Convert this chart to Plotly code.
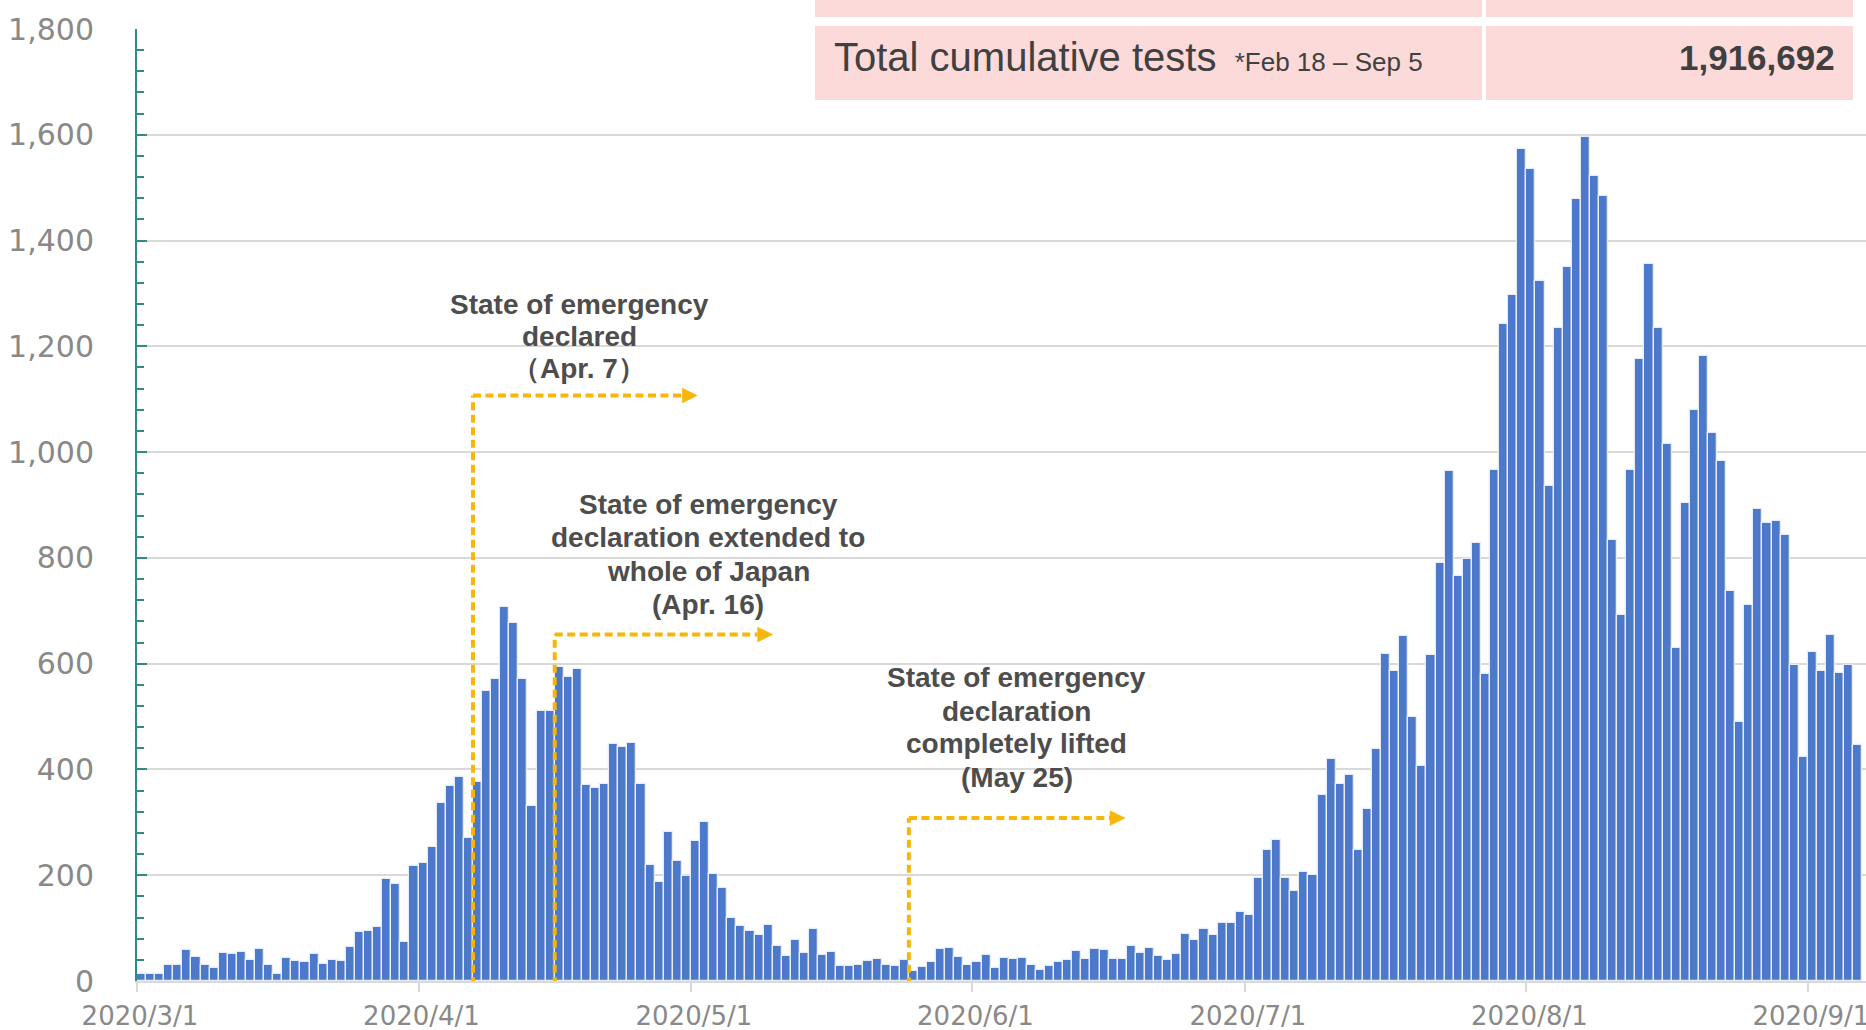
import plotly.graph_objects as go
import pandas as pd

# ---------------- data ----------------
start_date = "2020-03-01"
daily_tests = [
    14, 13, 14, 31, 30, 59, 46, 31, 25, 53,
    51, 54, 39, 60, 31, 14, 43, 38, 35, 52,
    33, 40, 37, 64, 93, 95, 103, 193, 184, 73,
    217, 224, 253, 336, 369, 386, 270, 376, 549, 571,
    708, 676, 571, 331, 510, 510, 594, 574, 589, 370,
    365, 372, 448, 443, 450, 372, 219, 188, 282, 226,
    198, 265, 300, 203, 175, 119, 104, 95, 87, 106,
    66, 48, 78, 53, 98, 50, 55, 28, 28, 30,
    37, 42, 30, 28, 39, 19, 26, 36, 60, 63,
    45, 31, 35, 50, 25, 44, 41, 44, 31, 20,
    28, 35, 39, 56, 42, 61, 59, 41, 42, 67,
    53, 63, 48, 39, 52, 88, 78, 98, 87, 110,
    109, 131, 125, 194, 248, 267, 194, 170, 206, 201,
    351, 419, 372, 390, 247, 326, 439, 619, 587, 653,
    500, 406, 617, 791, 965, 765, 797, 829, 580, 967,
    1242, 1297, 1573, 1535, 1324, 936, 1234, 1350, 1479, 1595,
    1523, 1485, 834, 692, 967, 1176, 1355, 1234, 1016, 629,
    904, 1079, 1181, 1036, 984, 738, 490, 711, 892, 866,
    869, 843, 597, 424, 623, 587, 654, 582, 597, 446,
]
tick_dates = ["2020-03-01", "2020-04-01", "2020-05-01", "2020-06-01",
              "2020-07-01", "2020-08-01", "2020-09-01"]
tick_labels = ["2020/3/1", "2020/4/1", "2020/5/1", "2020/6/1",
               "2020/7/1", "2020/8/1", "2020/9/1"]
y_ticks = [0, 200, 400, 600, 800, 1000, 1200, 1400, 1600, 1800]

event_dates = ["2020-04-07", "2020-04-16", "2020-05-25"]
event_lines = [
    ["State of emergency", "declared", "（Apr. 7）"],
    ["State of emergency", "declaration extended to", "whole of Japan", "(Apr. 16)"],
    ["State of emergency", "declaration", "completely lifted", "(May 25)"],
]
table_label = "Total cumulative tests"
table_note = "*Feb 18 – Sep 5"
table_value = "1,916,692"

# ---------------- derived positions ----------------
dates = pd.date_range(start_date, periods=len(daily_tests))
d0 = dates[0]
x_idx = list(range(len(daily_tests)))
tickvals = [(pd.Timestamp(d) - d0).days - 0.5 for d in tick_dates]
event_idx = [(pd.Timestamp(d) - d0).days for d in event_dates]

# style constants for annotations (arrow heights / text placement, in y units)
arrow_y = [1107, 655, 308]
arrow_len = [24.7, 24.0, 23.8]
text_cx = [48.2, 62.4, 96.4]
text_y = [[1280, 1219, 1158], [901, 838, 774, 712], [573, 510, 450, 384]]

ORANGE = "#F8B60A"
TEAL = "#2E8A84"
GRID = "#D9D9D9"
TXT = "#898989"
ANN = "#4D4D4D"

fig = go.Figure()
fig.add_trace(go.Bar(
    x=x_idx, y=daily_tests, width=1.0,
    marker=dict(color="#4C79C9", line=dict(color="#E6ECF8", width=1.3)),
    hoverinfo="y",
))

shapes = []
annotations = []
for k, ei in enumerate(event_idx):
    x0 = ei - 0.5
    y_h = arrow_y[k]
    tip = x0 + arrow_len[k]
    head = 1.65
    shapes.append(dict(type="line", xref="x", yref="y", x0=x0, x1=x0, y0=-8, y1=y_h,
                       line=dict(color=ORANGE, width=4, dash="8px,4.5px"), layer="above"))
    shapes.append(dict(type="line", xref="x", yref="y", x0=x0, x1=tip - head, y0=y_h, y1=y_h,
                       line=dict(color=ORANGE, width=4, dash="8px,4.5px"), layer="above"))
    shapes.append(dict(type="path", xref="x", yref="y",
                       path=f"M {tip-head},{y_h-14} L {tip},{y_h} L {tip-head},{y_h+14} Z",
                       fillcolor=ORANGE, line=dict(color=ORANGE, width=0.5), layer="above"))
    for line_text, yy in zip(event_lines[k], text_y[k]):
        annotations.append(dict(x=text_cx[k], y=yy, xref="x", yref="y", text=f"<b>{line_text}</b>",
                                showarrow=False, xanchor="center", yanchor="middle",
                                font=dict(family="Liberation Sans, Arial", size=28, color=ANN)))

# table (top right); paper coords relative to plot area (page px 137..1866, 29..981)
PW = 1729.0
PH = 952.0
def px(xp):
    return (xp - 137) / PW
def py(yp):
    return (981 - yp) / PH

PINK = "#FDDADA"
for (xa, xb) in [(815, 1482), (1486, 1853)]:
    shapes.append(dict(type="rect", xref="paper", yref="paper", x0=px(xa), x1=px(xb),
                       y0=py(17), y1=py(-10), fillcolor=PINK, line=dict(width=0), layer="above"))
    shapes.append(dict(type="rect", xref="paper", yref="paper", x0=px(xa), x1=px(xb),
                       y0=py(100), y1=py(26), fillcolor=PINK, line=dict(width=0), layer="above"))

annotations.append(dict(x=px(832), y=py(57), xref="paper", yref="paper",
                        text=f"{table_label} <span style='font-size:26px'>&nbsp;{table_note}</span>",
                        showarrow=False, xanchor="left", yanchor="middle",
                        font=dict(family="Liberation Sans, Arial", size=40, color="#404040")))
annotations.append(dict(x=px(1837), y=py(57), xref="paper", yref="paper",
                        text=f"<b>{table_value}</b>",
                        showarrow=False, xanchor="right", yanchor="middle",
                        font=dict(family="Liberation Sans, Arial", size=35, color="#404040")))

fig.update_layout(
    width=1866, height=1030, autosize=False,
    margin=dict(l=137, r=0, t=29, b=49, pad=0),
    paper_bgcolor="white", plot_bgcolor="white",
    bargap=0, showlegend=False,
    shapes=shapes, annotations=annotations,
    font=dict(family="DejaVu Sans", color=TXT),
)
fig.update_xaxes(
    range=[-0.5, 189.9], tickmode="array", tickvals=tickvals, ticktext=tick_labels,
    ticks="outside", ticklen=9, tickwidth=2, tickcolor=GRID,
    showline=True, linecolor=GRID, linewidth=2,
    showgrid=False, zeroline=False, automargin=False,
    tickfont=dict(family="DejaVu Sans", size=26, color=TXT),
    ticklabelshift=3, ticklabelstandoff=2, ticklabeloverflow="allow",
)
fig.update_yaxes(
    range=[0, 1800], tickmode="array", tickvals=y_ticks, tickformat=",",
    ticks="inside", ticklen=10, tickwidth=2, tickcolor=TEAL,
    minor=dict(dtick=40, tick0=0, ticks="inside", ticklen=7, tickwidth=2, tickcolor=TEAL, showgrid=False),
    showline=True, linecolor=TEAL, linewidth=2,
    showgrid=True, gridcolor=GRID, gridwidth=1.5,
    zeroline=False, automargin=False,
    tickfont=dict(family="DejaVu Sans", size=30, color=TXT),
    ticklabelstandoff=35, ticklabeloverflow="allow",
)

# remove the page's default 8px body margin so the 1866x1030 figure fills the window exactly
fig.write_html("out.html", config={"displayModeBar": False},
               post_script="document.body.style.margin='0';")
